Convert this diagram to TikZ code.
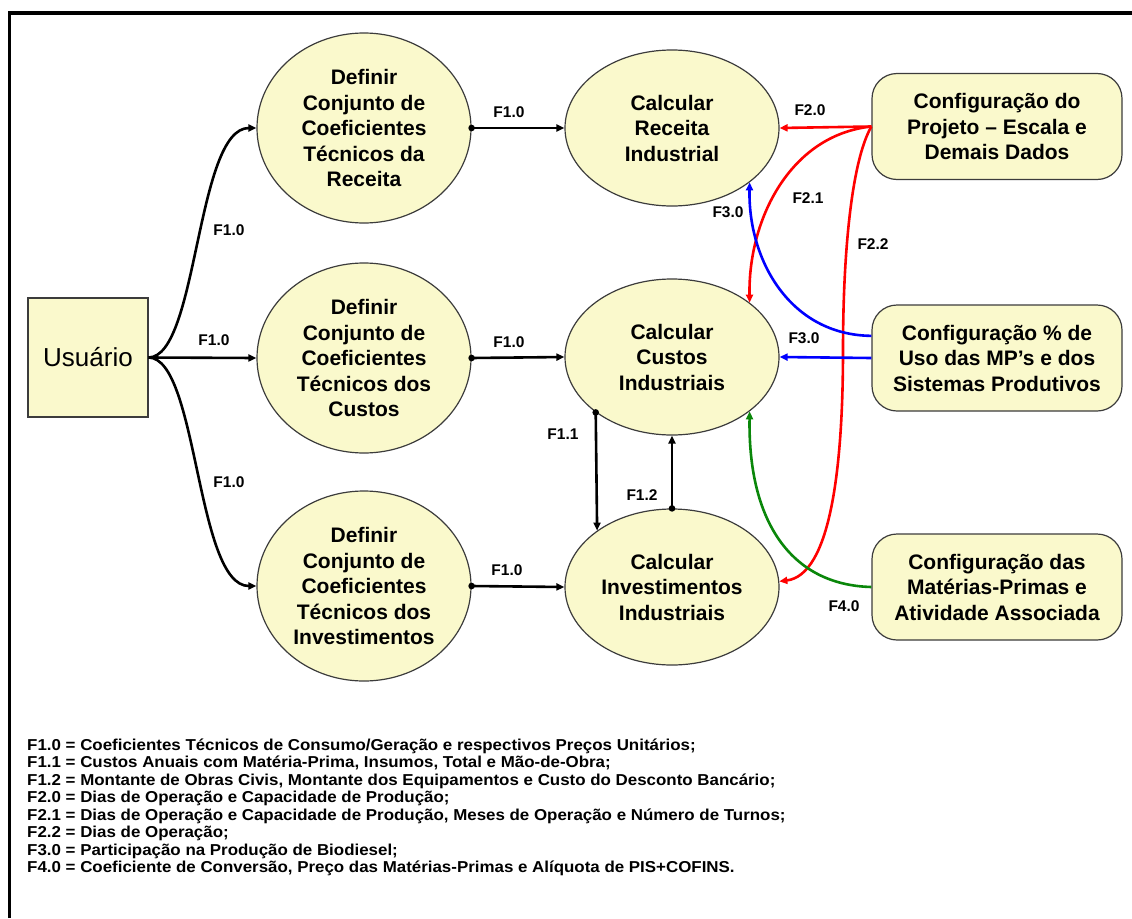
\documentclass[tikz,border=0pt]{standalone}
\usepackage{fontspec}
\setmainfont{Liberation Sans}
\newfontfamily\legfont[FakeStretch=1.07]{Liberation Sans}
\usetikzlibrary{shapes.geometric,arrows.meta}
\definecolor{ncol}{RGB}{250,249,204}
\definecolor{gcol}{RGB}{10,135,10}
\definecolor{edgecol}{RGB}{60,60,60}
\begin{document}
\begin{tikzpicture}[x=1pt,y=-1pt,
  proc/.style={ellipse, draw=edgecol, line width=1.2pt, fill=ncol, inner sep=0pt, align=center,
    font=\fontsize{21}{25.5}\selectfont\bfseries, minimum width=214pt, minimum height=190pt},
  calcbox/.style={proc, minimum height=156pt},
  cfg/.style={rectangle, rounded corners=25pt, draw=edgecol, line width=1.2pt, fill=ncol,
    minimum width=250pt, minimum height=106pt, align=center, inner sep=0pt,
    font=\fontsize{21}{25.5}\selectfont\bfseries},
  flow/.style={line width=2.6pt, -{Triangle[length=8pt,width=7pt]}},
  lbl/.style={font=\fontsize{15.5}{16}\selectfont\bfseries, inner sep=0pt},
  leg/.style={anchor=base west, inner sep=0pt, font=\legfont\fontsize{15.8}{17.5}\selectfont\bfseries}]
\useasboundingbox (0,0) rectangle (1132,918);
\fill[white] (0,0) rectangle (1132,918);
\draw[line width=3.5pt] (9.5,918) -- (9.5,13) -- (1132,13);

% nodes
\node[draw=edgecol, fill=ncol, line width=1.2pt, minimum width=120pt, minimum height=119pt,
  font=\fontsize{26}{30}\selectfont] (us) at (88,357.5) {Usuário};
\node[proc] (dr) at (364,128) {Definir\\Conjunto de\\Coeficientes\\Técnicos da\\Receita};
\node[proc] (dc) at (364,358) {Definir\\Conjunto de\\Coeficientes\\Técnicos dos\\Custos};
\node[proc] (di) at (364,586) {Definir\\Conjunto de\\Coeficientes\\Técnicos dos\\Investimentos};
\node[calcbox] (cr) at (672,128) {Calcular\\Receita\\Industrial};
\node[calcbox] (cc) at (672,357) {Calcular\\Custos\\Industriais};
\node[calcbox] (ci) at (672,587) {Calcular\\Investimentos\\Industriais};
\node[cfg] (cp) at (997,126.5) {Configuração do\\Projeto – Escala e\\Demais Dados};
\node[cfg] (cu) at (997,358) {Configuração \% de\\Uso das MP’s e dos\\Sistemas Produtivos};
\node[cfg] (cm) at (997,587) {Configuração das\\Matérias-Primas e\\Atividade Associada};

% black flows
\draw[flow] (us.east) .. controls (198,357) and (196,128) .. (dr.west);
\draw[flow] (us.east) -- (dc.west);
\draw[flow] (us.east) .. controls (198,358) and (196,586) .. (di.west);
\draw[flow] (dr.east) -- (cr.west);
\draw[flow] (dc.east) -- (cc.west);
\draw[flow] (di.east) -- (ci.west);
\draw[flow] (cc.216.45) -- (ci.143.55);
\draw[flow] (ci.north) -- (cc.south);
\fill (dr.east) circle (3.3);
\fill (dc.east) circle (3.3);
\fill (di.east) circle (3.3);
\fill (cc.216.45) circle (3.3);
\fill (ci.north) circle (3.3);

% red flows
\coordinate (r22) at (843,350);
\draw[flow, red] (cp.west) -- (cr.east);
\draw[flow, red] (cp.west) .. controls (790,135) and (748,220) .. (cc.35.7);
\draw[flow, red] (cp.west) .. controls (852,160) and (843,250) .. (r22)
   .. controls (843,470) and (830,575) .. (ci.3);
% blue flows
\draw[flow, blue] (cu.170) .. controls (790,335) and (748,260) .. (cr.-35.7);
\draw[flow, blue] (cu.west) -- (cc.east);
% green flow
\draw[flow, gcol] (cm.west) .. controls (790,585) and (748,520) .. (cc.-35.7);

% labels
\node[lbl] (la) at (229,230) {F1.0};
\node[lbl] (lb) at (214,340) {F1.0};
\node[lbl] (lc) at (229,482) {F1.0};
\node[lbl] (ld) at (509,112) {F1.0};
\node[lbl] (le) at (509,342) {F1.0};
\node[lbl] (lf) at (507,570) {F1.0};
\node[lbl] (lg) at (563,434) {F1.1};
\node[lbl] (lh) at (642,495) {F1.2};
\node[lbl] (li) at (810,110) {F2.0};
\node[lbl] (lj) at (808,198) {F2.1};
\node[lbl] (lk) at (873,244) {F2.2};
\node[lbl] (ll) at (728,212) {F3.0};
\node[lbl] (lm) at (804,338) {F3.0};
\node[lbl] (ln) at (844,606) {F4.0};

% legend
\node[leg] (g1) at (27,750.4) {F1.0 = Coeficientes Técnicos de Consumo/Geração e respectivos Preços Unitários;};
\node[leg] (g2) at (27,767.9) {F1.1 = Custos Anuais com Matéria-Prima, Insumos, Total e Mão-de-Obra;};
\node[leg] (g3) at (27,785.4) {F1.2 = Montante de Obras Civis, Montante dos Equipamentos e Custo do Desconto Bancário;};
\node[leg] (g4) at (27,802.9) {F2.0 = Dias de Operação e Capacidade de Produção;};
\node[leg] (g5) at (27,820.4) {F2.1 = Dias de Operação e Capacidade de Produção, Meses de Operação e Número de Turnos;};
\node[leg] (g6) at (27,837.9) {F2.2 = Dias de Operação;};
\node[leg] (g7) at (27,855.4) {F3.0 = Participação na Produção de Biodiesel;};
\node[leg] (g8) at (27,872.9) {F4.0 = Coeficiente de Conversão, Preço das Matérias-Primas e Alíquota de PIS+COFINS.};
\end{tikzpicture}
\end{document}
